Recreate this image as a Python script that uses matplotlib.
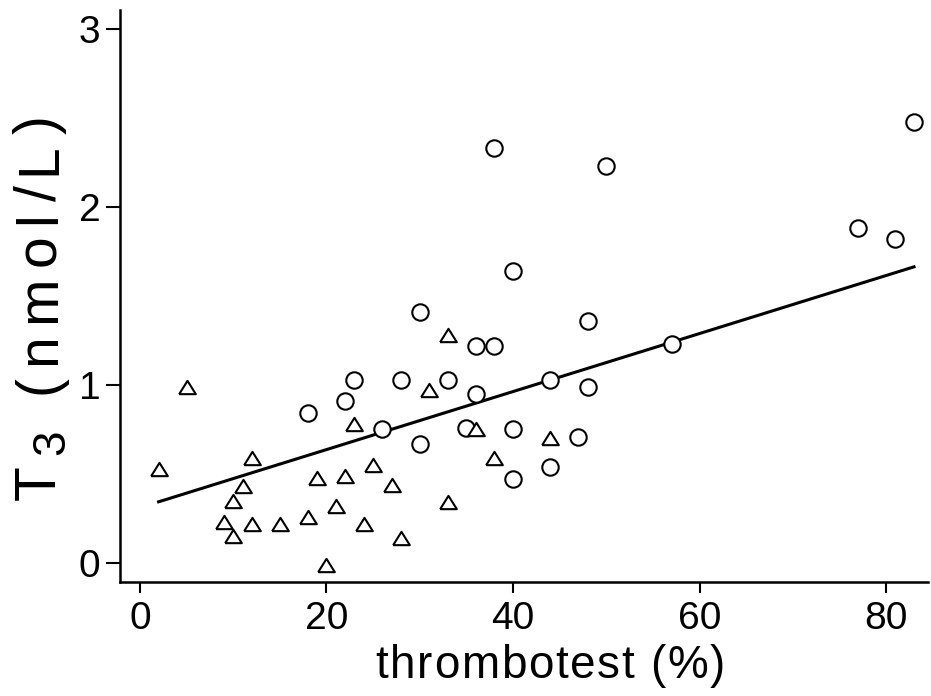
import matplotlib
matplotlib.use("Agg")
import matplotlib.pyplot as plt
from matplotlib.font_manager import FontProperties, findfont, get_font
from matplotlib.ft2font import LoadFlags
import numpy as np

# Triangles (one group)
tri_x = [2, 5, 9, 10, 10, 11, 12, 12, 15, 18, 19, 20, 21, 22, 23, 24, 25, 27, 28,
         31, 33, 33, 36, 38, 44]
tri_y = [0.53, 0.99, 0.23, 0.15, 0.35, 0.43, 0.59, 0.22, 0.22, 0.26, 0.48, -0.01,
         0.32, 0.49, 0.78, 0.22, 0.55, 0.44, 0.14, 0.97, 1.28, 0.34, 0.75, 0.59, 0.70]

# Circles (other group)
circ_x = [18, 22, 23, 26, 28, 30, 30, 33, 35, 36, 36, 38, 38, 40, 40, 40, 44, 44,
          47, 48, 48, 50, 57, 77, 81, 83]
circ_y = [0.84, 0.91, 1.03, 0.75, 1.03, 1.41, 0.67, 1.03, 0.76, 1.22, 0.95, 1.22,
          2.33, 1.64, 0.75, 0.47, 1.03, 0.54, 0.71, 1.36, 0.99, 2.23, 1.23, 1.88,
          1.82, 2.48]

# Regression line
fit_x = [2, 83]
fit_intercept = 0.311
fit_slope = 0.0163

x_ticks = [0, 20, 40, 60, 80]
y_ticks = [0, 1, 2, 3]
x_label = "thrombotest (%)"
y_label_main = "T"
y_label_sub = "3"
y_label_rest = " (nmol/L)"

FAMILY = "Liberation Sans"
W, H = 931, 696
fig = plt.figure(figsize=(W / 100, H / 100), dpi=100)
ax = fig.add_axes([120 / W, (H - 582) / H, (928 - 120) / W, (582 - 10) / H])

tri_marker = [(-1, -0.8), (1, -0.8), (0, 0.8), (-1, -0.8)]

ax.plot(circ_x, circ_y, linestyle="none", marker="o", markersize=11.8,
        markerfacecolor="white", markeredgecolor="black", markeredgewidth=1.5,
        zorder=3)
ax.plot(tri_x, tri_y, linestyle="none", marker=tri_marker, markersize=12,
        markerfacecolor="white", markeredgecolor="black", markeredgewidth=1.5,
        zorder=3)

fx = np.array(fit_x, dtype=float)
ax.plot(fx, fit_intercept + fit_slope * fx, color="black", linewidth=2.2, zorder=2)

ax.set_xlim(-2.14, 84.5)
ax.set_ylim(-0.107, 3.107)
ax.set_xticks(x_ticks)
ax.set_yticks(y_ticks)
ax.set_xticklabels([str(v) for v in x_ticks], fontfamily=FAMILY, fontsize=28)
ax.set_yticklabels([str(v) for v in y_ticks], fontfamily=FAMILY, fontsize=28)

for s in ["top", "right"]:
    ax.spines[s].set_visible(False)
for s in ["left", "bottom"]:
    ax.spines[s].set_linewidth(1.8)

ax.tick_params(axis="x", direction="out", length=8, width=1.5, pad=6)
ax.tick_params(axis="y", direction="out", length=10, width=1.5, pad=4)


def advance_px(ch, size_pt):
    fp = FontProperties(family=FAMILY, size=size_pt)
    font = get_font(findfont(fp))
    font.set_size(size_pt, 100)
    g = font.load_char(ord(ch), flags=LoadFlags.NO_HINTING)
    return g.linearHoriAdvance / 65536.0


def tracked_text(pieces, start, baseline, direction, tracking):
    """pieces: list of (string, size_pt, baseline_shift_px). direction 'h' or 'v'."""
    pos = start
    for text, size, shift in pieces:
        for ch in text:
            if direction == "h":
                fig.text(pos / W, 1 - (baseline + shift) / H, ch, fontfamily=FAMILY,
                         fontsize=size, ha="left", va="baseline")
            else:
                fig.text((baseline + shift) / W, 1 - pos / H, ch, fontfamily=FAMILY,
                         fontsize=size, ha="left", va="baseline", rotation=90,
                         rotation_mode="anchor")
            adv = advance_px(ch, size) + tracking
            pos = pos + adv if direction == "h" else pos - adv


# x label: starts at x=375 px, baseline y=678 px
tracked_text([(x_label, 33, 0)], start=375, baseline=678, direction="h", tracking=1.7)

# y label: rotated, baseline x=55 px, starts at y=500 px going upwards
tracked_text([(y_label_main, 41, 0), (y_label_sub, 33, 9), (y_label_rest, 41, 0)],
             start=500, baseline=55, direction="v", tracking=10)

fig.savefig("out.png", dpi=100)
